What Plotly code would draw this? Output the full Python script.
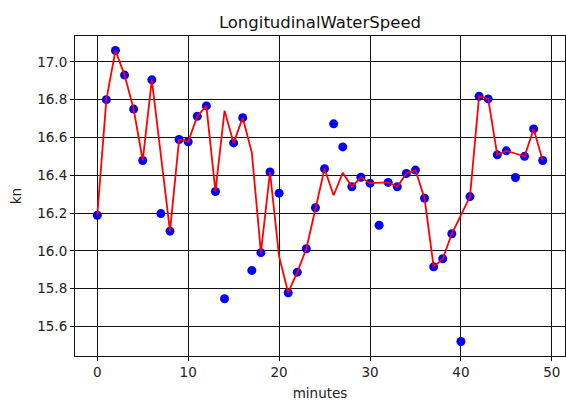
import plotly.graph_objects as go

minutes = list(range(50))
measured = [16.188, 16.80, 17.06, 16.93, 16.75, 16.478, 16.905, 16.197, 16.104, 16.589,
            16.577, 16.712, 16.767, 16.314, 15.746, 16.571, 16.704, 15.896, 15.99, 16.417,
            16.305, 15.778, 15.887, 16.011, 16.228, 16.434, 16.672, 16.55, 16.339, 16.389,
            16.358, 16.135, 16.362, 16.339, 16.409, 16.427, 16.278, 15.915, 15.958, 16.09,
            15.52, 16.287, 16.818, 16.804, 16.508, 16.529, 16.388, 16.50, 16.645, 16.478]
filtered = [16.188, 16.80, 17.06, 16.93, 16.75, 16.478, 16.905, 16.50, 16.104, 16.589,
            16.577, 16.712, 16.767, 16.314, 16.742, 16.571, 16.704, 16.52, 15.99, 16.417,
            15.97, 15.778, 15.887, 16.011, 16.228, 16.434, 16.294, 16.413, 16.339, 16.389,
            16.358, 16.36, 16.362, 16.339, 16.409, 16.427, 16.278, 15.915, 15.958, 16.09,
            16.188, 16.287, 16.818, 16.804, 16.508, 16.529, 16.515, 16.50, 16.645, 16.478]
x_ticks = [0, 10, 20, 30, 40, 50]
y_ticks = [15.6, 15.8, 16.0, 16.2, 16.4, 16.6, 16.8, 17.0]

fig = go.Figure()
fig.add_trace(go.Scatter(x=minutes, y=measured, mode="markers",
                         marker=dict(color="#0000ff", size=9, line=dict(width=0)),
                         showlegend=False))
fig.add_trace(go.Scatter(x=minutes, y=filtered, mode="lines",
                         line=dict(color="#ff0000", width=1.8),
                         showlegend=False))

font = "DejaVu Sans"
axis_common = dict(showline=True, linecolor="#111111", linewidth=1.1, mirror=True,
                   showgrid=True, gridcolor="#111111", gridwidth=1.3,
                   ticks="outside", ticklen=4, tickwidth=1.1, tickcolor="#111111",
                   zeroline=False, tickfont=dict(family=font, size=13.5, color="#222222"))
fig.update_xaxes(range=[-2.45, 51.45], tickvals=x_ticks, ticktext=[str(v) for v in x_ticks],
                 title=dict(text="minutes", font=dict(family=font, size=13.5, color="#222222"), standoff=10),
                 **axis_common)
fig.update_yaxes(range=[15.443, 17.137], tickvals=y_ticks, ticktext=[f"{v:.1f}" for v in y_ticks],
                 title=dict(text="kn", font=dict(family=font, size=13.5, color="#222222"), standoff=12),
                 **axis_common)
fig.update_layout(width=566, height=401, margin=dict(l=75, r=1, t=36, b=45),
                  plot_bgcolor="white", paper_bgcolor="white",
                  title=dict(text="LongitudinalWaterSpeed", x=0.5653, xanchor="center",
                             y=0.945, yanchor="middle", yref="container",
                             font=dict(family=font, size=16.5, color="#111111")))
fig.write_html("out.html")
